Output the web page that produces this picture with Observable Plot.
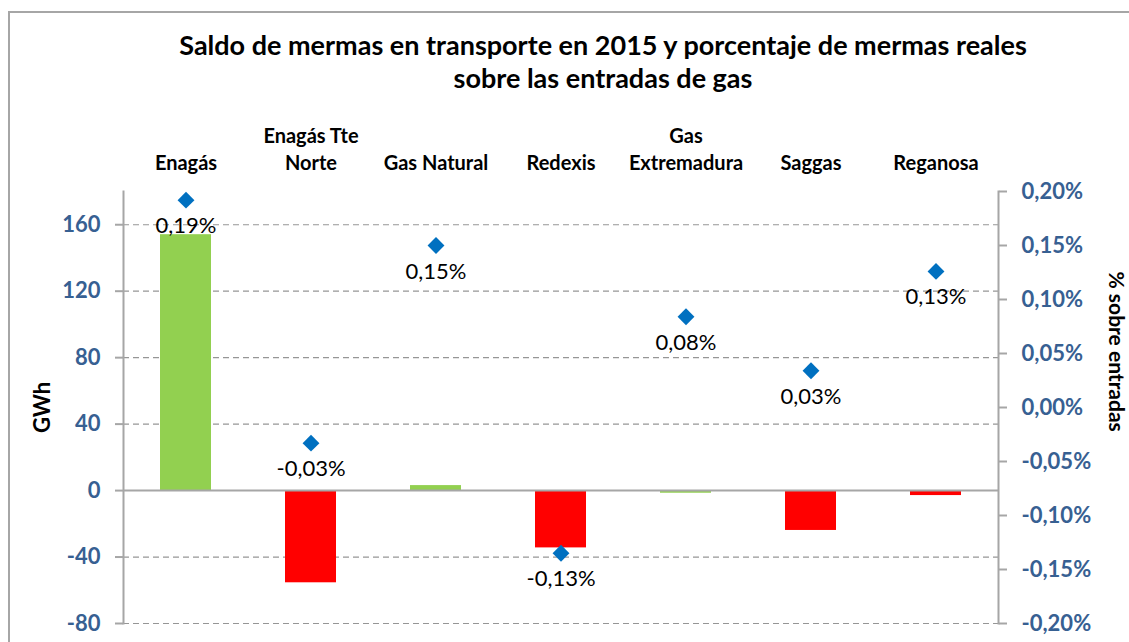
<!DOCTYPE html>
<html><head><meta charset="utf-8">
<script src="https://cdn.jsdelivr.net/npm/d3@7"></script>
<script src="https://cdn.jsdelivr.net/npm/@observablehq/plot@0.6"></script>
<style>
body{margin:0;background:#fff;font-family:Lato,"Open Sans",sans-serif;}
#wrap{position:relative;width:1129px;height:642px;overflow:hidden;background:#fff;}
#border{position:absolute;left:8px;top:11px;width:1200px;height:700px;border-left:2px solid #a6a6a6;border-top:2px solid #a6a6a6;z-index:5;pointer-events:none;}
#head{position:relative;height:100px;}
#title{position:absolute;left:603px;top:28px;transform:translateX(-50%);white-space:nowrap;text-align:center;font-weight:bold;font-size:27px;line-height:33px;color:#000;}
#chart{position:relative;}
</style></head><body>
<div id="wrap"><div id="border"></div>
<div id="head"><div id="title">Saldo de mermas en transporte en 2015 y porcentaje de mermas reales<br>sobre las entradas de gas</div></div>
<div id="chart"></div></div>
<script>
// ---- data ----
const categories = ["Enagás", "Enagás Tte Norte", "Gas Natural", "Redexis", "Gas Extremadura", "Saggas", "Reganosa"];
const categoryLabels = ["Enagás", "Enagás Tte\nNorte", "Gas Natural", "Redexis", "Gas\nExtremadura", "Saggas", "Reganosa"];
const saldoGWh = [154, -55.5, 3, -34.5, -1.6, -24, -3];
const pctEntradas = [0.192, -0.033, 0.150, -0.135, 0.084, 0.034, 0.126];
const pctLabels = ["0,19%", "-0,03%", "0,15%", "-0,13%", "0,08%", "0,03%", "0,13%"];
const gwhTicks = [-80, -40, 0, 40, 80, 120, 160];
const pctTicks = [-0.20, -0.15, -0.10, -0.05, 0.00, 0.05, 0.10, 0.15, 0.20];
const gwhDomain = [-80, 180];
const pctDomain = [-0.20, 0.20];

// ---- styles ----
const GREEN = "#92D050", RED = "#FF0000", BLUE = "#0070C0", AXIS = "#376092", GRAY = "#a6a6a6", GRID = "#969696";
const barFill = [GREEN, RED, GREEN, RED, GREEN, RED, RED];

// secondary axis mapped onto primary scale
const toLeft = p => gwhDomain[0] + (p - pctDomain[0]) / (pctDomain[1] - pctDomain[0]) * (gwhDomain[1] - gwhDomain[0]);
const fromLeft = v => pctDomain[0] + (v - gwhDomain[0]) / (gwhDomain[1] - gwhDomain[0]) * (pctDomain[1] - pctDomain[0]);
const fmtPct = p => (Math.abs(p) < 1e-9 ? 0 : p).toFixed(2).replace(".", ",") + "%";

const rows = categories.map((c, i) => ({name: c, label: categoryLabels[i], gwh: saldoGWh[i], pct: pctEntradas[i], pctLabel: pctLabels[i], fill: barFill[i]}));
const labelOf = new Map(categories.map((c, i) => [c, categoryLabels[i]]));

const chart = Plot.plot({
  width: 1129, height: 542,
  marginLeft: 123, marginRight: 131, marginTop: 91, marginBottom: 19,
  x: {domain: categories, paddingInner: 0.59, paddingOuter: 0.295},
  y: {domain: gwhDomain},
  style: {fontFamily: "Lato, 'Open Sans', sans-serif", background: "transparent", overflow: "visible"},
  marks: [
    Plot.gridY(gwhTicks.filter(t => t !== 0), {stroke: GRID, strokeOpacity: 1, strokeWidth: 1.2, strokeDasharray: "6,4"}),
    Plot.barY(rows, {x: "name", y: "gwh", fill: "fill"}),
    Plot.ruleY([0], {stroke: GRAY, strokeWidth: 2}),
    Plot.frame({anchor: "left", stroke: GRAY, strokeWidth: 2}),
    Plot.frame({anchor: "right", stroke: GRAY, strokeWidth: 2}),
    Plot.axisY(gwhTicks, {anchor: "left", tickSize: 8, tickPadding: 15, stroke: GRAY, strokeWidth: 2,
      fontSize: 22, fontWeight: "bold", fill: AXIS, label: null, tickFormat: d => String(d)}),
    Plot.axisY(pctTicks.map(toLeft), {anchor: "right", tickSize: 8, tickPadding: 15, stroke: GRAY, strokeWidth: 2,
      fontSize: 22, fontWeight: "bold", fill: AXIS, label: null, tickFormat: v => fmtPct(fromLeft(v))}),
    Plot.axisX({anchor: "top", tickSize: 0, tickPadding: 22, fontSize: 20, fontWeight: "bold", fill: "#000",
      lineHeight: 1.35, label: null, tickFormat: d => labelOf.get(d)}),
    Plot.text(["GWh"], {frameAnchor: "left", dx: -81, rotate: -90, textAnchor: "middle", lineAnchor: "middle", fontSize: 22, fontWeight: "bold", fill: "#000", text: d => d}),
    Plot.text(["% sobre entradas"], {frameAnchor: "right", y: () => 83.6, dx: 117, rotate: 90, textAnchor: "middle", lineAnchor: "middle", fontSize: 21, fontWeight: "bold", fill: "#000", text: d => d}),
    Plot.dot(rows, {x: "name", y: d => toLeft(d.pct), symbol: "diamond2", r: 7.6, fill: BLUE, stroke: null}),
    Plot.text(rows, {x: "name", y: d => toLeft(d.pct), dy: 26, text: "pctLabel", fontSize: 22, fill: "#000"})
  ]
});
document.getElementById("chart").appendChild(chart);
</script>
</body></html>
